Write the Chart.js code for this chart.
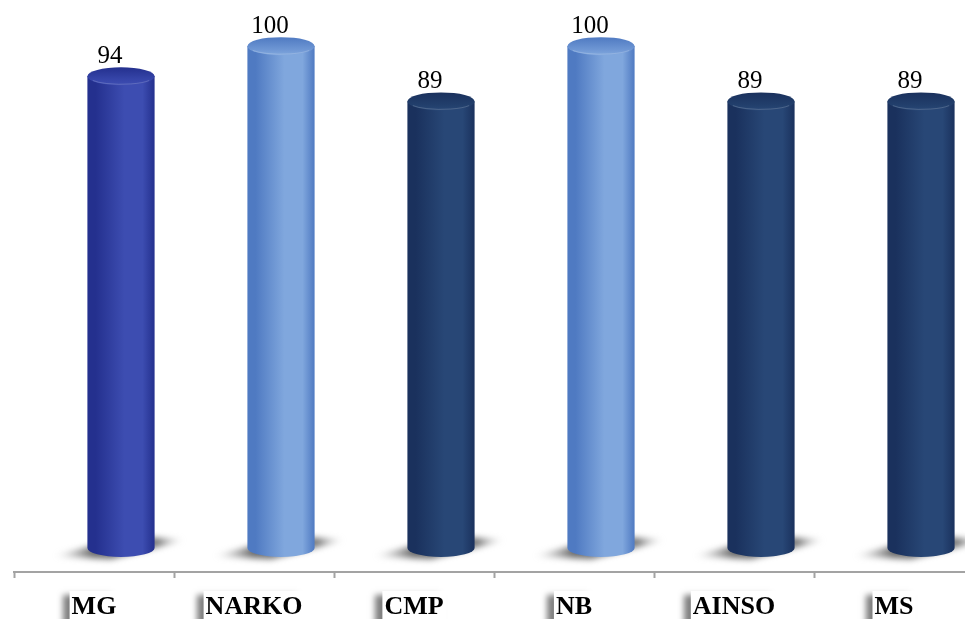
<!DOCTYPE html>
<html>
<head>
<meta charset="utf-8">
<script src="https://cdn.jsdelivr.net/npm/chart.js@4.4.0/dist/chart.umd.min.js"></script>
<style>
  html, body { margin: 0; padding: 0; background: #fff; overflow: hidden; }
  #wrap { width: 975px; height: 619px; }
</style>
</head>
<body>
<div id="wrap"><canvas id="scoreChart" width="975" height="619"></canvas></div>
<script>
// categories and scores
const categories = ['MG', 'NARKO', 'CMP', 'NB', 'AINSO', 'MS'];
const scores = [94, 100, 89, 100, 89, 89];

// cylinder shades per bar: [edge, light, top]
const shades = [
  ['#24308e', '#3d4db1', '#3746aa'],
  ['#4f7ac2', '#80a7dd', '#6f97d4'],
  ['#1a315d', '#284776', '#223f6c'],
  ['#4f7ac2', '#80a7dd', '#6f97d4'],
  ['#1a315d', '#284776', '#223f6c'],
  ['#1a315d', '#284776', '#223f6c']
];

// 3D depth shift of the cylinders from their category slot
const DEPTH_X = 27;
const DEPTH_Y = 24;
const RY = 9;

function cylinderGeom(bar) {
  return {
    cx: bar.x + DEPTH_X,
    top: bar.y - DEPTH_Y,
    bottom: bar.base - DEPTH_Y,
    rx: bar.width / 2
  };
}

const cylinderPlugin = {
  id: 'cylinders',
  afterDatasetsDraw(chart) {
    const ctx = chart.ctx;
    const bars = chart.getDatasetMeta(0).data;

    // floor shadows
    bars.forEach(bar => {
      const g = cylinderGeom(bar);
      const x0 = g.cx - g.rx - 34;
      const x1 = g.cx + g.rx + 30;
      ctx.save();
      ctx.filter = 'blur(3px)';
      const sg = ctx.createLinearGradient(x0, 0, x1, 0);
      sg.addColorStop(0, 'rgba(150,150,150,0)');
      sg.addColorStop(0.3, 'rgba(105,105,105,1)');
      sg.addColorStop(0.8, 'rgba(120,120,120,1)');
      sg.addColorStop(1, 'rgba(170,170,170,0)');
      ctx.fillStyle = sg;
      ctx.beginPath();
      ctx.moveTo(x0, g.bottom + 8);
      ctx.lineTo(g.cx - 10, g.bottom + 11);
      ctx.lineTo(x1, g.bottom - 8);
      ctx.lineTo(g.cx + 10, g.bottom - 12);
      ctx.closePath();
      ctx.fill();
      ctx.restore();
    });

    bars.forEach((bar, i) => {
      const g = cylinderGeom(bar);
      const [edge, light, topCol] = shades[i];
      ctx.save();

      // body
      const grad = ctx.createLinearGradient(g.cx - g.rx, 0, g.cx + g.rx, 0);
      grad.addColorStop(0, edge);
      grad.addColorStop(0.12, edge);
      grad.addColorStop(0.55, light);
      grad.addColorStop(0.82, light);
      grad.addColorStop(1, edge);
      ctx.fillStyle = grad;
      ctx.beginPath();
      ctx.moveTo(g.cx - g.rx, g.top);
      ctx.lineTo(g.cx - g.rx, g.bottom);
      ctx.ellipse(g.cx, g.bottom, g.rx, RY, 0, Math.PI, 0, true);
      ctx.lineTo(g.cx + g.rx, g.top);
      ctx.closePath();
      ctx.fill();

      // top cap
      const capGrad = ctx.createLinearGradient(0, g.top - RY, 0, g.top + RY);
      capGrad.addColorStop(0, edge);
      capGrad.addColorStop(0.7, topCol);
      capGrad.addColorStop(1, light);
      ctx.fillStyle = capGrad;
      ctx.beginPath();
      ctx.ellipse(g.cx, g.top, g.rx, RY, 0, 0, Math.PI * 2);
      ctx.fill();
      ctx.strokeStyle = 'rgba(255,255,255,0.18)';
      ctx.lineWidth = 1;
      ctx.beginPath();
      ctx.ellipse(g.cx, g.top + 1, g.rx - 2, RY - 2, 0, 0.15 * Math.PI, 0.85 * Math.PI);
      ctx.stroke();

      ctx.restore();

      // value label
      ctx.save();
      ctx.font = '25px "Liberation Serif", "Times New Roman", serif';
      ctx.fillStyle = '#000';
      ctx.textAlign = 'center';
      ctx.textBaseline = 'alphabetic';
      ctx.fillText(String(scores[i]), bar.x + 16, g.top - RY - 4);
      ctx.restore();
    });
  },
  afterDraw(chart) {
    // category labels in white boxes with a drop shadow
    const ctx = chart.ctx;
    const xScale = chart.scales.x;
    ctx.save();
    ctx.font = 'bold 26px "Liberation Serif", "Times New Roman", serif';
    ctx.textAlign = 'center';
    categories.forEach((name, i) => {
      const x = xScale.getPixelForValue(i);
      const w = ctx.measureText(name).width + 4;
      ctx.save();
      ctx.shadowColor = 'rgba(0,0,0,0.5)';
      ctx.shadowBlur = 6;
      ctx.shadowOffsetX = -7;
      ctx.shadowOffsetY = 4;
      ctx.fillStyle = '#fff';
      ctx.fillRect(x - w / 2, 591, w, 32);
      ctx.restore();
      ctx.fillStyle = '#000';
      ctx.fillText(name, x, 614);
    });
    ctx.restore();
  }
};

new Chart(document.getElementById('scoreChart'), {
  type: 'bar',
  data: {
    labels: categories,
    datasets: [{
      data: scores,
      backgroundColor: 'rgba(0,0,0,0)',
      barPercentage: 0.42,
      categoryPercentage: 1
    }]
  },
  options: {
    responsive: false,
    animation: false,
    layout: { padding: { left: 14, right: 1, top: 20, bottom: 41 } },
    scales: {
      x: {
        offset: true,
        grid: {
          offset: true,
          drawOnChartArea: false,
          tickLength: 6,
          tickWidth: 2,
          color: '#a3a3a3'
        },
        border: { color: '#a3a3a3', width: 2 },
        ticks: { display: false }
      },
      y: {
        display: false,
        min: 0,
        max: 110
      }
    },
    plugins: {
      legend: { display: false },
      tooltip: { enabled: false }
    }
  },
  plugins: [cylinderPlugin]
});
</script>
</body>
</html>
